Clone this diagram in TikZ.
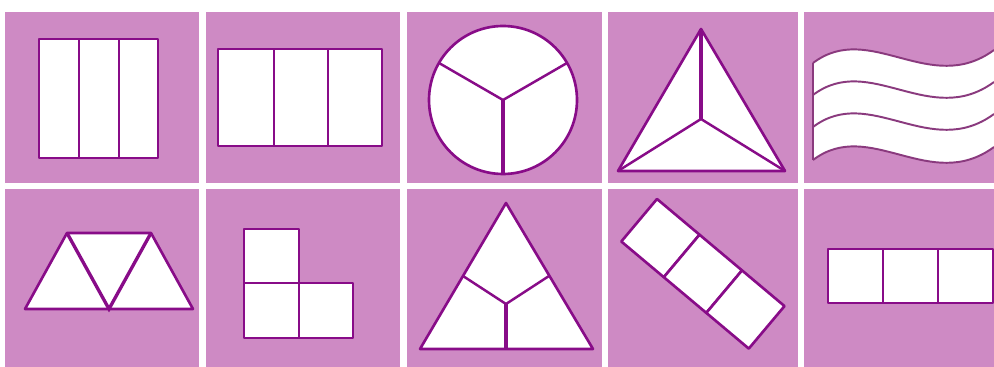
\documentclass[tikz,border=0pt]{standalone}
\usepackage{xcolor}
\definecolor{panelpink}{HTML}{CE8AC4}
\definecolor{edgeviolet}{HTML}{880C88}
\definecolor{wavepurple}{HTML}{8A3A7E}
\begin{document}
\begin{tikzpicture}[x=0.02cm,y=-0.02cm,
    piece/.style={draw=edgeviolet,fill=white,line width=1.5pt,line join=round},
    cut/.style={draw=edgeviolet,line width=1.4pt},
    thickcut/.style={draw=edgeviolet,line width=1.9pt},
    wave/.style={draw=wavepurple,line width=1.1pt}]
\useasboundingbox (0,0) rectangle (994,367);
% the ten panels
\foreach \xa/\xb in {5/199,206/400,407/602,608/798,804/994}{
    \fill[panelpink] (\xa,12) rectangle (\xb,183);
    \fill[panelpink] (\xa,189) rectangle (\xb,367);
}
% square in three strips
\draw[piece] (39,39) rectangle (158,158);
\foreach \x in {79,119} \draw[cut] (\x,39)--(\x,158);
% oblong in three parts
\draw[piece] (218,49) rectangle (382,146);
\foreach \x in {274,328} \draw[cut] (\x,49)--(\x,146);
% circle in thirds
\draw[piece] (503,100) circle (74);
\draw[cut] (439,63)--(503,100)--(567,63);
\draw[thickcut] (503,100)--(503,174);
% triangle from the top
\draw[piece] (701,29)--(785,171)--(618,171)--cycle;
\draw[thickcut] (701,29)--(701,119);
\draw[cut] (618,171)--(701,119)--(785,171);
% wavy flag
\begin{scope}
    \clip (804,12) rectangle (994,183);
    \fill[white] (813,63) .. controls +(57,-43) and +(-64,47) .. (994,50)
        -- (994,147) .. controls +(-64,47) and +(57,-43) .. (813,160) -- cycle;
    \foreach \y in {63,95,127,160}
        \draw[wave] (813,\y) .. controls +(57,-43) and +(-64,47) .. (994,\y-13);
    \draw[wave] (813,63)--(813,160);
\end{scope}
% trapezium of three triangles
\draw[piece] (25,309)--(67,233)--(151,233)--(193,309)--cycle;
\draw[thickcut] (67,233)--(109,309)--(151,233);
% L of three squares
\draw[piece] (244,229) rectangle (299,283);
\draw[piece] (244,283) rectangle (299,338);
\draw[piece] (299,283) rectangle (353,338);
% triangle from the centre
\draw[piece] (506,203)--(593,349)--(420,349)--cycle;
\draw[cut] (463,276)--(506,304)--(549,276);
\draw[thickcut] (506,304)--(506,349);
% tilted strip of squares
\foreach \k in {0,1,2}
    \draw[piece] (657+42.5*\k,199+35.7*\k) -- (699.5+42.5*\k,234.7+35.7*\k)
        -- (663.8+42.5*\k,277.2+35.7*\k) -- (621.3+42.5*\k,241.5+35.7*\k) -- cycle;
% row of squares
\foreach \x in {828,883,938} \draw[piece] (\x,249) rectangle +(55,54);
\end{tikzpicture}
\end{document}
